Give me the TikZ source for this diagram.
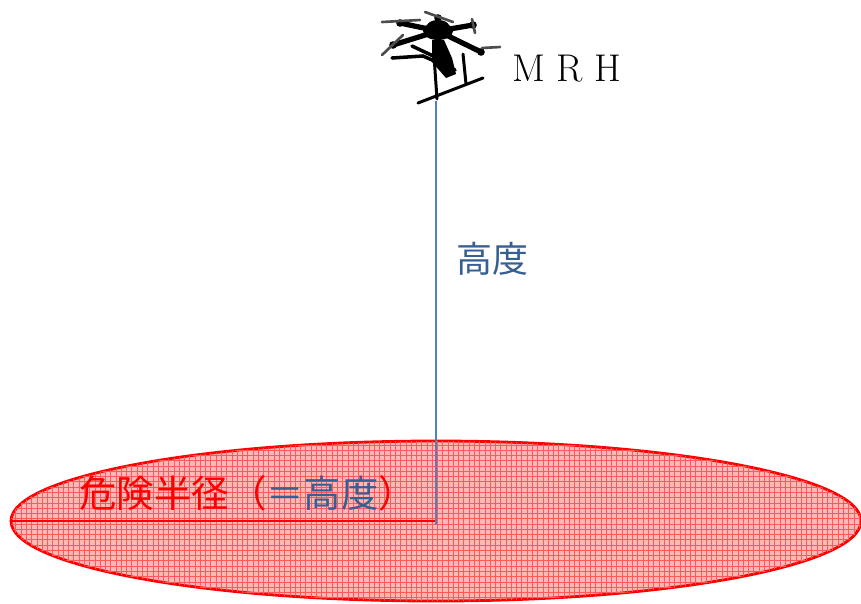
\documentclass[tikz,border=0pt]{standalone}
\usepackage{fontspec}
\usepackage{tikz}
\usetikzlibrary{patterns}
\usetikzlibrary{positioning,calc}
\newfontfamily\jpfont{Noto Sans CJK JP}
\definecolor{heightline}{RGB}{79,129,189}
\definecolor{heighttext}{RGB}{55,96,146}
\tikzstyle{arm} = [line width=3pt, line cap=round, black]
\tikzstyle{prop} = [line width=1.5pt, line cap=round, black!70]
\tikzstyle{leg} = [line width=1.7pt, line cap=round, black]

\begin{document}
\begin{tikzpicture}[x=0.02cm, y=-0.02cm,
	jptext/.style={inner sep=0pt, font=\jpfont\fontsize{#1}{24}\selectfont},
	zone/.style={draw=red, line width=1.6pt, fill=red!28, postaction={pattern=grid, pattern color=red!65}}]
			
			\useasboundingbox (0,0) rectangle (861,603);
			
			% DANGER ZONE
			
			\coordinate (center) at (436,521);
			\coordinate (edge) at (11,521);
			\draw [zone] (center) ellipse (425 and 80);
			\draw [red, line width=1pt] (edge) -- (center);
			
			% MULTIROTOR
			
			\coordinate (hub) at (438,31);
			\coordinate (foot) at (436,101);
			% arms and motors
			\foreach \mx/\my in {400/23, 438/18, 473/25, 481/52, 393/45}
				{\draw [arm] (hub) -- (\mx,\my);
				 \fill [black] (\mx,\my) circle (3.8);}
			\draw [arm, line width=2pt] (392,58) -- (423,56) -- (455,70);
			\draw [arm, line width=2pt] (412,46) -- (446,62);
			% rotors
			\draw [prop] (382,22) -- (420,20);
			\draw [prop] (425,12) -- (453,22);
			\draw [prop] (472,19) -- (475,33);
			\draw [prop] (482,48) -- (500,47);
			\draw [prop] (382,55) -- (403,35);
			% centre dome and camera
			\fill [black] (hub) ellipse (15 and 9);
			\fill [black] (438,26) ellipse (11 and 6);
			\fill [black] (432,40) -- (444,40) -- (452,58) -- (456,74) -- (446,78) -- (432,62) -- cycle;
			% landing gear
			\draw [leg] (434,56) -- (437,99);
			\draw [leg] (463,54) -- (466,84);
			\draw [leg] (418,103) -- (483,78);
			
			% HEIGHT
			
			\draw [heightline, line width=1.2pt] (foot) -- ($(center)+(0,4)$);
			
			% LABELS
			
			\node [anchor=west, font=\fontsize{22}{24}\selectfont, inner sep=0pt] (mrh) at (512,69) {M\hspace{0.3em}R\hspace{0.3em}H};
			\node [jptext=20.5, anchor=west, text=heighttext] (height) at (456,259) {高度};
			\node [jptext=21.3, anchor=west] (radius) at (79,493)
			{\textcolor{red}{危険半径（}\textcolor{heighttext}{＝高度}\textcolor{red}{）}};
		
		\end{tikzpicture}
\end{document}
